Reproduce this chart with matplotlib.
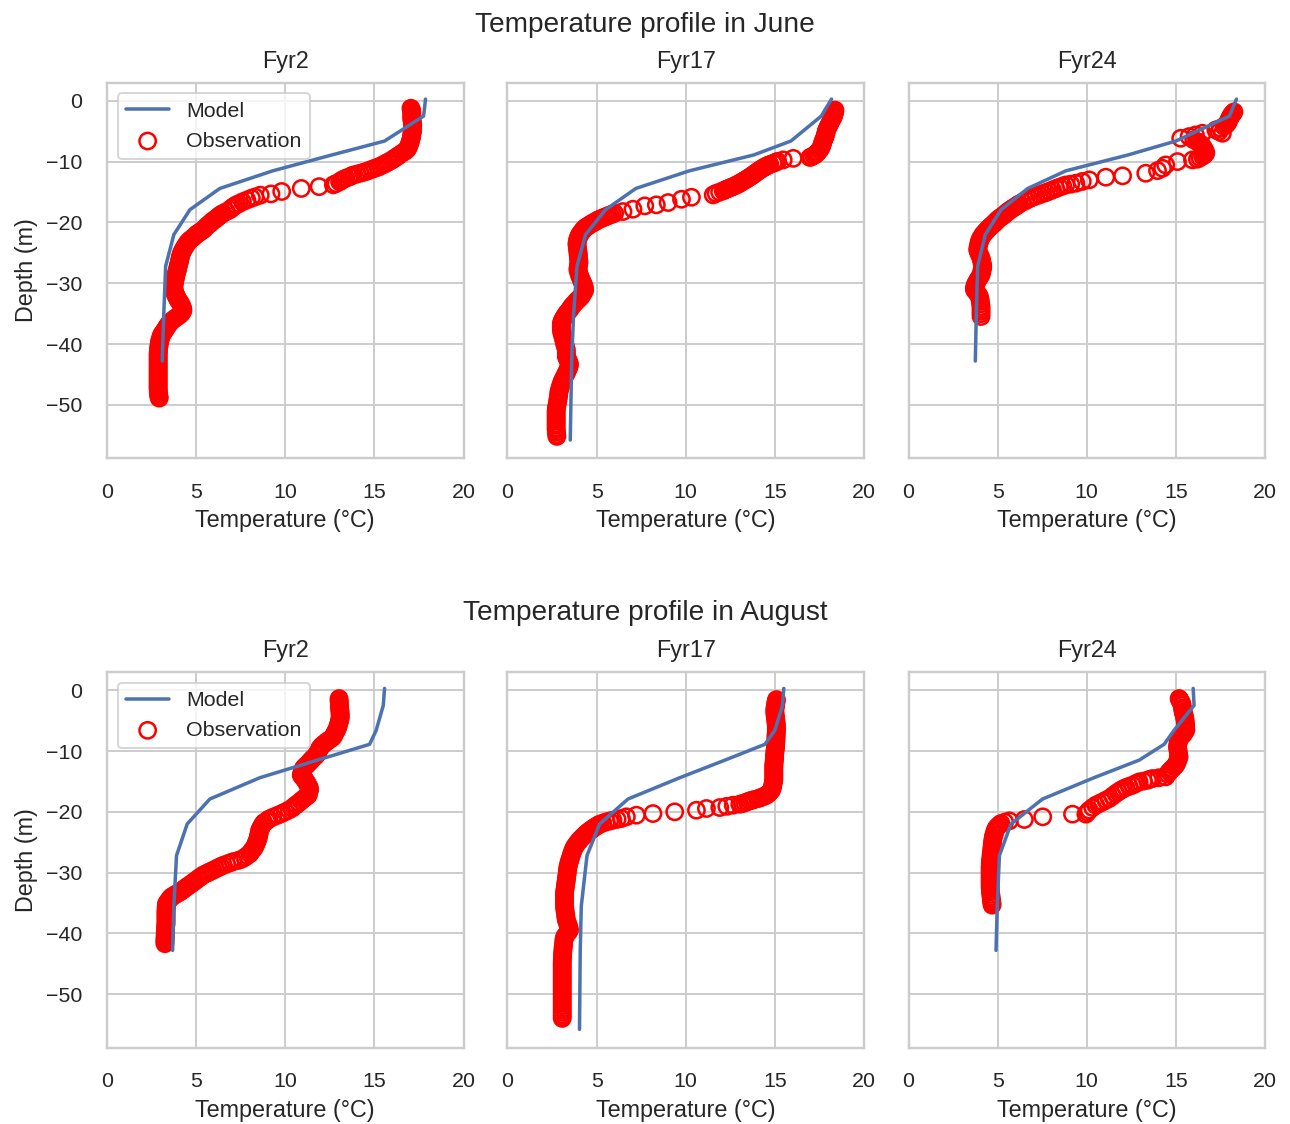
import matplotlib
matplotlib.use("Agg")
import matplotlib.pyplot as plt
import seaborn as sns

sns.set_theme(style="whitegrid")
plt.rcParams['font.family'] = ['Liberation Sans', 'DejaVu Sans']
plt.rcParams['xtick.major.pad'] = 6.5
plt.rcParams['ytick.major.pad'] = 6.8
plt.rcParams['axes.titlepad'] = 7.5

stations = ["Fyr2", "Fyr17", "Fyr24"]
months = ["June", "August"]

# Model depth levels (m)
model_depth = [0.3, -2.5, -6.6, -8.9, -11.5, -14.4, -17.9, -22.0, -27.2, -35.5, -42.8, -55.8]

# Model temperatures (deg C) per month / station
model_jun_fyr2 = [17.87, 17.76, 15.57, 12.6, 9.3, 6.33, 4.65, 3.75, 3.29, 3.18, 3.1]
model_jun_fyr17 = [18.18, 17.6, 15.9, 13.8, 10.2, 7.2, 5.5, 4.38, 3.9, 3.7, 3.6, 3.52]
model_jun_fyr24 = [18.4, 18.0, 15.0, 12.3, 8.83, 6.69, 5.19, 4.31, 3.88, 3.8, 3.75]
model_aug_fyr2 = [15.57, 15.5, 15.1, 14.73, 11.8, 8.57, 5.77, 4.5, 3.9, 3.75, 3.68]
model_aug_fyr17 = [15.5, 15.43, 15.0, 14.44, 12.2, 9.66, 6.76, 5.17, 4.46, 4.14, 4.08, 4.04]
model_aug_fyr24 = [15.97, 16.02, 14.9, 14.34, 12.94, 10.4, 7.52, 5.75, 5.1, 4.98, 4.91]

# Observations as (depth m, temperature degC) pairs read from the CTD casts
obs_jun_fyr2 = [
    (-1.2, 17.05), (-1.5, 17.08), (-1.8, 17.1), (-2.1, 17.1), (-2.4, 17.1), (-2.7, 17.1), (-3.0, 17.1), (-3.3, 17.12),
    (-3.6, 17.14), (-3.9, 17.15), (-4.2, 17.15), (-4.5, 17.15), (-4.8, 17.15), (-5.1, 17.13), (-5.4, 17.1), (-5.7, 17.1),
    (-6.0, 17.08), (-6.3, 17.05), (-6.6, 17.02), (-6.9, 17.0), (-7.2, 16.95), (-7.5, 16.92), (-7.8, 16.88), (-8.1, 16.8),
    (-8.3, 16.7), (-8.6, 16.55), (-8.9, 16.4), (-9.1, 16.3), (-9.3, 16.2), (-9.5, 16.1), (-9.7, 16.0), (-9.9, 15.88),
    (-10.1, 15.75), (-10.3, 15.62), (-10.5, 15.5), (-10.7, 15.35), (-10.9, 15.2), (-11.05, 15.05), (-11.2, 14.9),
    (-11.4, 14.72), (-11.6, 14.55), (-11.75, 14.38), (-11.9, 14.2), (-12.05, 14.0), (-12.2, 13.8), (-12.35, 13.7),
    (-12.5, 13.6), (-12.7, 13.4), (-12.85, 13.3), (-13.0, 13.2), (-13.15, 13.12), (-13.3, 13.05), (-13.6, 12.85),
    (-13.8, 12.7), (-14.1, 11.9), (-14.4, 10.9), (-14.9, 9.8), (-15.3, 9.2), (-15.5, 8.6), (-15.8, 8.3), (-16.0, 8.1),
    (-16.3, 7.85), (-16.6, 7.6), (-16.9, 7.4), (-17.1, 7.25), (-17.3, 7.15), (-17.5, 7.05), (-17.7, 6.97), (-17.9, 6.9),
    (-18.2, 6.7), (-18.5, 6.5), (-18.7, 6.4), (-18.9, 6.3), (-19.1, 6.22), (-19.3, 6.15), (-19.5, 6.05), (-19.7, 5.95),
    (-19.9, 5.87), (-20.1, 5.8), (-20.35, 5.7), (-20.6, 5.6), (-20.9, 5.5), (-21.2, 5.4), (-21.4, 5.3), (-21.6, 5.2),
    (-21.8, 5.1), (-22.0, 5.0), (-22.3, 4.9), (-22.6, 4.78), (-22.9, 4.65), (-23.2, 4.55), (-23.5, 4.48), (-23.8, 4.41),
    (-24.1, 4.35), (-24.4, 4.29), (-24.7, 4.24), (-25.0, 4.18), (-25.3, 4.15), (-25.6, 4.12), (-25.9, 4.1), (-26.2, 4.08),
    (-26.5, 4.06), (-26.8, 4.03), (-27.1, 4.0), (-27.4, 3.98), (-27.7, 3.96), (-28.0, 3.93), (-28.3, 3.9), (-28.6, 3.87),
    (-28.9, 3.85), (-29.2, 3.83), (-29.5, 3.81), (-29.8, 3.79), (-30.1, 3.77), (-30.4, 3.75), (-30.7, 3.75), (-31.0, 3.76),
    (-31.3, 3.78), (-31.6, 3.81), (-31.9, 3.85), (-32.2, 3.9), (-32.5, 3.95), (-32.8, 4.0), (-33.1, 4.08), (-33.4, 4.14),
    (-33.7, 4.19), (-34.0, 4.23), (-34.3, 4.26), (-34.6, 4.25), (-34.9, 4.18), (-35.2, 4.09), (-35.5, 3.95), (-35.8, 3.8),
    (-36.1, 3.67), (-36.4, 3.55), (-36.7, 3.47), (-37.0, 3.4), (-37.3, 3.33), (-37.6, 3.27), (-37.9, 3.2), (-38.2, 3.13),
    (-38.5, 3.06), (-38.8, 3.03), (-39.1, 3.0), (-39.4, 2.97), (-39.7, 2.94), (-40.0, 2.93), (-40.3, 2.92), (-40.6, 2.9),
    (-40.9, 2.89), (-41.2, 2.88), (-41.5, 2.87), (-41.8, 2.87), (-42.1, 2.87), (-42.4, 2.87), (-42.7, 2.87), (-43.0, 2.87),
    (-43.3, 2.87), (-43.6, 2.87), (-43.9, 2.87), (-44.2, 2.87), (-44.5, 2.87), (-44.8, 2.87), (-45.1, 2.87), (-45.4, 2.87),
    (-45.7, 2.87), (-46.0, 2.87), (-46.3, 2.87), (-46.6, 2.87), (-46.9, 2.87), (-47.2, 2.87), (-47.5, 2.87), (-47.8, 2.88),
    (-48.1, 2.88), (-48.4, 2.9), (-48.7, 2.92), (-48.9, 2.93),
]

obs_jun_fyr17 = [
    (-1.5, 18.37), (-1.8, 18.36), (-2.1, 18.33), (-2.4, 18.3), (-2.7, 18.27), (-3.0, 18.2), (-3.3, 18.15), (-3.6, 18.1),
    (-3.9, 18.05), (-4.2, 18.0), (-4.5, 17.95), (-4.8, 17.9), (-5.1, 17.88), (-5.4, 17.85), (-5.7, 17.83), (-6.0, 17.8),
    (-6.3, 17.75), (-6.6, 17.71), (-6.9, 17.68), (-7.2, 17.65), (-7.5, 17.62), (-7.8, 17.57), (-8.1, 17.5), (-8.4, 17.42),
    (-8.6, 17.35), (-8.8, 17.28), (-9.0, 17.18), (-9.2, 17.05), (-9.3, 16.97), (-9.45, 16.03), (-9.7, 15.47),
    (-9.95, 15.15), (-10.1, 15.03), (-10.25, 14.91), (-10.45, 14.72), (-10.6, 14.62), (-10.7, 14.53), (-10.85, 14.44),
    (-11.0, 14.35), (-11.2, 14.25), (-11.35, 14.16), (-11.55, 14.06), (-11.75, 13.97), (-11.95, 13.87), (-12.17, 13.78),
    (-12.35, 13.69), (-12.5, 13.6), (-12.7, 13.5), (-12.88, 13.41), (-13.05, 13.31), (-13.2, 13.22), (-13.37, 13.12),
    (-13.54, 13.03), (-13.7, 12.94), (-13.8, 12.85), (-13.95, 12.75), (-14.09, 12.66), (-14.2, 12.56), (-14.3, 12.47),
    (-14.42, 12.37), (-14.53, 12.28), (-14.65, 12.19), (-14.8, 12.1), (-15.0, 11.9), (-15.2, 11.7), (-15.46, 11.54),
    (-15.85, 10.32), (-16.18, 9.76), (-16.72, 9.01), (-17.1, 8.35), (-17.27, 7.7), (-17.82, 7.04), (-18.2, 6.48),
    (-18.48, 6.01), (-18.62, 5.88), (-18.75, 5.75), (-18.9, 5.64), (-19.02, 5.54), (-19.15, 5.42), (-19.3, 5.3),
    (-19.45, 5.19), (-19.57, 5.08), (-19.75, 4.99), (-19.9, 4.9), (-20.05, 4.8), (-20.23, 4.7), (-20.4, 4.6),
    (-20.6, 4.5), (-20.77, 4.41), (-20.94, 4.33), (-21.2, 4.25), (-21.5, 4.17), (-21.8, 4.1), (-22.04, 4.04),
    (-22.35, 3.99), (-22.7, 3.95), (-23.0, 3.92), (-23.4, 3.9), (-23.7, 3.9), (-24.1, 3.92), (-24.4, 3.93), (-24.78, 3.95),
    (-25.1, 3.96), (-25.4, 3.97), (-25.7, 3.98), (-26.0, 3.99), (-26.42, 4.01), (-26.75, 4.0), (-27.1, 3.98),
    (-27.45, 3.96), (-27.8, 3.95), (-28.2, 3.99), (-28.6, 4.03), (-29.0, 4.08), (-29.44, 4.14), (-29.8, 4.2),
    (-30.1, 4.24), (-30.4, 4.28), (-30.7, 4.31), (-31.09, 4.33), (-31.4, 4.29), (-31.7, 4.22), (-32.0, 4.17),
    (-32.3, 4.1), (-32.6, 3.99), (-32.9, 3.88), (-33.28, 3.77), (-33.6, 3.67), (-33.9, 3.58), (-34.2, 3.52),
    (-34.5, 3.45), (-34.8, 3.36), (-35.1, 3.28), (-35.47, 3.2), (-35.8, 3.14), (-36.1, 3.08), (-36.4, 3.04),
    (-36.7, 3.02), (-37.0, 3.02), (-37.3, 3.02), (-37.66, 3.02), (-38.0, 3.04), (-38.4, 3.07), (-38.76, 3.11),
    (-39.1, 3.14), (-39.5, 3.17), (-39.86, 3.2), (-40.2, 3.23), (-40.6, 3.27), (-40.95, 3.3), (-41.3, 3.3), (-41.7, 3.3),
    (-42.05, 3.3), (-42.4, 3.35), (-42.8, 3.42), (-43.1, 3.46), (-43.42, 3.48), (-43.8, 3.44), (-44.1, 3.4),
    (-44.5, 3.34), (-44.79, 3.3), (-45.1, 3.24), (-45.5, 3.17), (-45.88, 3.11), (-46.2, 3.06), (-46.6, 3.01),
    (-47.0, 2.97), (-47.3, 2.94), (-47.7, 2.9), (-48.0, 2.88), (-48.4, 2.87), (-48.8, 2.85), (-49.17, 2.83),
    (-49.5, 2.81), (-49.9, 2.79), (-50.3, 2.76), (-50.6, 2.74), (-51.0, 2.73), (-51.3, 2.73), (-51.7, 2.73),
    (-52.0, 2.73), (-52.4, 2.73), (-52.7, 2.73), (-53.1, 2.73), (-53.4, 2.73), (-53.8, 2.73), (-54.11, 2.73),
    (-54.5, 2.74), (-54.9, 2.76), (-55.2, 2.77),
]

obs_jun_fyr24 = [
    (-1.8, 18.26), (-2.0, 18.2), (-2.2, 18.15), (-2.4, 18.1), (-2.6, 18.07), (-2.85, 18.02), (-3.1, 17.98),
    (-3.4, 17.94), (-3.7, 17.89), (-3.95, 17.8), (-4.2, 17.7), (-4.5, 17.5), (-4.77, 17.24), (-5.04, 17.42),
    (-5.32, 17.61), (-5.32, 16.49), (-5.6, 16.1), (-5.87, 15.74), (-6.14, 15.27), (-6.4, 16.0), (-6.69, 16.21),
    (-6.9, 16.3), (-7.1, 16.4), (-7.3, 16.45), (-7.51, 16.49), (-7.75, 16.55), (-8.0, 16.6), (-8.3, 16.65),
    (-8.6, 16.68), (-8.85, 16.6), (-9.1, 16.5), (-9.35, 16.35), (-9.59, 16.21), (-9.7, 15.93), (-9.98, 15.09),
    (-10.53, 14.43), (-11.08, 14.25), (-11.46, 13.97), (-11.9, 13.31), (-12.33, 12.01), (-12.55, 11.07),
    (-12.99, 10.14), (-13.25, 9.75), (-13.54, 9.39), (-13.7, 9.1), (-13.82, 8.83), (-14.0, 8.65), (-14.2, 8.46),
    (-14.42, 8.27), (-14.64, 8.08), (-14.86, 7.9), (-15.08, 7.71), (-15.27, 7.52), (-15.46, 7.34), (-15.65, 7.15),
    (-15.84, 6.97), (-16.1, 6.78), (-16.39, 6.59), (-16.65, 6.4), (-16.94, 6.22), (-17.1, 6.13), (-17.3, 6.05),
    (-17.47, 5.95), (-17.65, 5.85), (-17.85, 5.75), (-18.05, 5.65), (-18.25, 5.56), (-18.48, 5.47), (-18.7, 5.38),
    (-18.9, 5.3), (-19.1, 5.2), (-19.3, 5.1), (-19.5, 5.02), (-19.7, 4.95), (-19.9, 4.88), (-20.12, 4.82),
    (-20.35, 4.72), (-20.6, 4.62), (-20.85, 4.53), (-21.1, 4.45), (-21.35, 4.37), (-21.6, 4.3), (-21.8, 4.23),
    (-22.04, 4.17), (-22.3, 4.11), (-22.6, 4.05), (-22.85, 4.01), (-23.13, 3.98), (-23.45, 3.95), (-23.8, 3.92),
    (-24.15, 3.9), (-24.5, 3.88), (-24.85, 3.92), (-25.2, 3.97), (-25.5, 4.02), (-25.87, 4.07), (-26.2, 4.1),
    (-26.6, 4.12), (-26.9, 4.15), (-27.25, 4.17), (-27.6, 4.15), (-27.9, 4.12), (-28.25, 4.1), (-28.62, 4.07),
    (-28.95, 4.0), (-29.3, 3.92), (-29.65, 3.85), (-29.99, 3.79), (-30.25, 3.75), (-30.5, 3.72), (-30.8, 3.7),
    (-31.09, 3.7), (-31.35, 3.78), (-31.6, 3.85), (-31.9, 3.92), (-32.18, 3.98), (-32.6, 4.01), (-33.0, 4.03),
    (-33.4, 4.05), (-33.83, 4.07), (-34.2, 4.07), (-34.6, 4.07), (-35.0, 4.07), (-35.47, 4.07),
]

obs_aug_fyr2 = [
    (-1.37, 13.02), (-1.7, 13.02), (-2.0, 13.03), (-2.3, 13.04), (-2.6, 13.04), (-2.9, 13.05), (-3.2, 13.06),
    (-3.5, 13.07), (-3.8, 13.08), (-4.1, 13.08), (-4.4, 13.09), (-4.7, 13.07), (-5.0, 13.05), (-5.3, 13.02),
    (-5.6, 12.99), (-5.9, 12.97), (-6.2, 12.93), (-6.5, 12.89), (-6.8, 12.83), (-7.1, 12.78), (-7.4, 12.73),
    (-7.7, 12.68), (-8.0, 12.55), (-8.3, 12.4), (-8.6, 12.27), (-8.9, 12.14), (-9.2, 12.03), (-9.5, 11.95),
    (-9.8, 11.89), (-10.1, 11.84), (-10.4, 11.79), (-10.7, 11.74), (-11.0, 11.63), (-11.3, 11.52), (-11.6, 11.43),
    (-11.9, 11.34), (-12.2, 11.24), (-12.5, 11.13), (-12.8, 11.03), (-13.1, 10.98), (-13.4, 10.95), (-13.7, 10.92),
    (-14.0, 10.9), (-14.3, 10.98), (-14.6, 11.07), (-14.9, 11.14), (-15.2, 11.2), (-15.5, 11.26), (-15.8, 11.31),
    (-16.1, 11.36), (-16.4, 11.36), (-16.7, 11.33), (-17.0, 11.31), (-17.3, 11.28), (-17.6, 11.15), (-17.9, 11.01),
    (-18.2, 10.89), (-18.5, 10.77), (-18.8, 10.63), (-19.1, 10.5), (-19.4, 10.39), (-19.7, 10.21), (-20.0, 10.0),
    (-20.3, 9.79), (-20.6, 9.55), (-20.9, 9.3), (-21.2, 9.08), (-21.5, 8.95), (-21.8, 8.8), (-22.1, 8.73),
    (-22.4, 8.68), (-22.7, 8.62), (-23.0, 8.57), (-23.3, 8.55), (-23.6, 8.53), (-23.9, 8.51), (-24.2, 8.49),
    (-24.5, 8.46), (-24.8, 8.42), (-25.1, 8.38), (-25.4, 8.34), (-25.7, 8.3), (-26.0, 8.24), (-26.3, 8.15),
    (-26.6, 8.08), (-26.9, 8.01), (-27.2, 7.87), (-27.5, 7.73), (-27.8, 7.56), (-28.0, 7.36), (-28.2, 7.08),
    (-28.4, 6.9), (-28.6, 6.71), (-28.8, 6.52), (-29.0, 6.38), (-29.2, 6.24), (-29.4, 6.1), (-29.6, 5.96),
    (-29.8, 5.82), (-30.0, 5.68), (-30.2, 5.54), (-30.4, 5.4), (-30.65, 5.28), (-30.9, 5.16), (-31.15, 5.05),
    (-31.4, 4.93), (-31.65, 4.82), (-31.9, 4.7), (-32.15, 4.58), (-32.4, 4.46), (-32.6, 4.37), (-32.8, 4.28),
    (-33.0, 4.19), (-33.2, 4.09), (-33.4, 3.97), (-33.6, 3.85), (-33.8, 3.73), (-34.0, 3.62), (-34.25, 3.55),
    (-34.5, 3.48), (-34.8, 3.41), (-35.1, 3.34), (-35.4, 3.33), (-35.7, 3.32), (-36.0, 3.32), (-36.3, 3.31),
    (-36.6, 3.31), (-36.9, 3.31), (-37.2, 3.31), (-37.5, 3.31), (-37.8, 3.31), (-38.1, 3.31), (-38.4, 3.31),
    (-38.7, 3.3), (-39.0, 3.29), (-39.3, 3.29), (-39.6, 3.28), (-39.9, 3.27), (-40.2, 3.27), (-40.5, 3.26),
    (-40.8, 3.26), (-41.1, 3.25), (-41.4, 3.25), (-41.7, 3.25),
]

obs_aug_fyr17 = [
    (-1.54, 15.09), (-1.85, 15.07), (-2.15, 15.05), (-2.45, 15.04), (-2.75, 15.02), (-3.05, 15.0), (-3.35, 15.0),
    (-3.65, 15.0), (-3.95, 15.01), (-4.25, 15.02), (-4.55, 15.04), (-4.85, 15.05), (-5.15, 15.06), (-5.45, 15.07),
    (-5.75, 15.08), (-6.05, 15.09), (-6.35, 15.08), (-6.65, 15.08), (-6.95, 15.08), (-7.25, 15.07), (-7.55, 15.07),
    (-7.85, 15.06), (-8.15, 15.06), (-8.45, 15.05), (-8.75, 15.05), (-9.05, 15.04), (-9.35, 15.03), (-9.65, 15.02),
    (-9.95, 15.01), (-10.25, 15.0), (-10.55, 14.99), (-10.85, 14.98), (-11.15, 14.98), (-11.45, 14.97),
    (-11.75, 14.96), (-12.05, 14.95), (-12.35, 14.94), (-12.65, 14.94), (-12.95, 14.94), (-13.25, 14.94),
    (-13.55, 14.94), (-13.85, 14.94), (-14.15, 14.94), (-14.45, 14.94), (-14.75, 14.94), (-15.05, 14.92),
    (-15.35, 14.9), (-15.65, 14.88), (-15.95, 14.86), (-16.2, 14.84), (-16.45, 14.81), (-16.7, 14.74),
    (-16.9, 14.67), (-17.1, 14.6), (-17.27, 14.53), (-17.42, 14.42), (-17.55, 14.3), (-17.7, 14.18),
    (-17.82, 14.06), (-18.0, 13.83), (-18.1, 13.72), (-18.2, 13.6), (-18.35, 13.45), (-18.53, 13.31),
    (-18.65, 13.17), (-18.75, 13.03), (-18.91, 12.66), (-19.1, 12.3), (-19.3, 11.91), (-19.46, 11.16),
    (-19.74, 10.6), (-20.01, 9.38), (-20.29, 8.16), (-20.56, 7.23), (-20.83, 6.67), (-21.11, 6.39),
    (-21.25, 6.15), (-21.38, 5.92), (-21.52, 5.73), (-21.66, 5.54), (-21.85, 5.35), (-22.04, 5.17), (-22.2, 5.08),
    (-22.4, 4.98), (-22.55, 4.88), (-22.75, 4.79), (-22.95, 4.7), (-23.15, 4.6), (-23.35, 4.51), (-23.57, 4.42),
    (-23.85, 4.33), (-24.1, 4.23), (-24.4, 4.13), (-24.67, 4.04), (-24.95, 3.97), (-25.2, 3.9), (-25.5, 3.83),
    (-25.77, 3.76), (-26.1, 3.71), (-26.4, 3.67), (-26.75, 3.62), (-27.14, 3.58), (-27.45, 3.55), (-27.8, 3.51),
    (-28.1, 3.48), (-28.4, 3.45), (-28.75, 3.42), (-29.06, 3.39), (-29.4, 3.38), (-29.75, 3.36), (-30.1, 3.35),
    (-30.5, 3.33), (-30.9, 3.31), (-31.25, 3.3), (-31.6, 3.28), (-31.95, 3.26), (-32.3, 3.25), (-32.7, 3.23),
    (-33.05, 3.21), (-33.44, 3.2), (-33.8, 3.2), (-34.15, 3.2), (-34.5, 3.2), (-34.9, 3.2), (-35.25, 3.2),
    (-35.64, 3.2), (-36.0, 3.22), (-36.35, 3.23), (-36.7, 3.25), (-37.1, 3.27), (-37.45, 3.28), (-37.83, 3.3),
    (-38.2, 3.35), (-38.6, 3.4), (-39.0, 3.45), (-39.47, 3.48), (-39.75, 3.42), (-40.0, 3.35), (-40.3, 3.27),
    (-40.57, 3.2), (-40.95, 3.18), (-41.3, 3.16), (-41.7, 3.15), (-42.05, 3.13), (-42.4, 3.12), (-42.76, 3.11),
    (-43.15, 3.1), (-43.5, 3.09), (-43.9, 3.09), (-44.25, 3.08), (-44.6, 3.07), (-44.96, 3.07), (-45.3, 3.07),
    (-45.65, 3.07), (-46.0, 3.07), (-46.4, 3.07), (-46.75, 3.07), (-47.15, 3.07), (-47.5, 3.07), (-47.85, 3.07),
    (-48.2, 3.07), (-48.6, 3.07), (-48.95, 3.07), (-49.34, 3.07), (-49.7, 3.07), (-50.05, 3.07), (-50.4, 3.07),
    (-50.8, 3.07), (-51.15, 3.07), (-51.54, 3.07), (-51.9, 3.07), (-52.3, 3.07), (-52.65, 3.07), (-53.0, 3.07),
    (-53.4, 3.07), (-53.7, 3.07), (-54.0, 3.07),
]

obs_aug_fyr24 = [
    (-1.37, 15.18), (-1.6, 15.22), (-1.8, 15.26), (-2.0, 15.3), (-2.19, 15.33), (-2.5, 15.35), (-2.9, 15.37),
    (-3.2, 15.39), (-3.56, 15.41), (-3.9, 15.44), (-4.2, 15.47), (-4.55, 15.5), (-4.93, 15.52), (-5.3, 15.53),
    (-5.7, 15.54), (-6.1, 15.55), (-6.58, 15.56), (-6.95, 15.48), (-7.3, 15.4), (-7.6, 15.3), (-7.95, 15.18),
    (-8.3, 15.15), (-8.6, 15.13), (-8.95, 15.11), (-9.32, 15.09), (-9.7, 15.11), (-10.1, 15.13), (-10.5, 15.15),
    (-10.96, 15.18), (-11.3, 15.14), (-11.6, 15.1), (-12.0, 15.05), (-12.34, 14.99), (-12.6, 14.9), (-12.9, 14.8),
    (-13.15, 14.71), (-13.43, 14.62), (-13.8, 14.53), (-14.25, 14.43), (-14.4, 14.05), (-14.53, 13.69),
    (-14.65, 13.55), (-14.8, 13.41), (-14.95, 13.18), (-15.08, 12.94), (-15.35, 12.75), (-15.63, 12.57),
    (-15.8, 12.38), (-16.0, 12.2), (-16.22, 12.05), (-16.45, 11.91), (-16.72, 11.77), (-17.0, 11.63),
    (-17.4, 11.45), (-17.82, 11.26), (-18.1, 11.07), (-18.37, 10.89), (-18.65, 10.7), (-18.91, 10.51),
    (-19.3, 10.33), (-19.74, 10.14), (-20.05, 10.05), (-20.39, 9.95), (-20.39, 9.2), (-20.83, 7.53), (-21.27, 6.5),
    (-21.49, 5.66), (-21.7, 5.4), (-21.93, 5.19), (-22.1, 5.12), (-22.3, 5.05), (-22.5, 4.98), (-22.75, 4.91),
    (-23.05, 4.87), (-23.4, 4.83), (-23.75, 4.8), (-24.12, 4.76), (-24.5, 4.74), (-24.9, 4.72), (-25.3, 4.7),
    (-25.77, 4.69), (-26.2, 4.67), (-26.6, 4.66), (-27.0, 4.64), (-27.41, 4.63), (-27.8, 4.61), (-28.2, 4.6),
    (-28.6, 4.59), (-29.06, 4.58), (-29.5, 4.58), (-29.9, 4.58), (-30.3, 4.58), (-30.7, 4.58), (-31.1, 4.58),
    (-31.5, 4.58), (-31.9, 4.58), (-32.35, 4.58), (-32.8, 4.59), (-33.2, 4.6), (-33.6, 4.62), (-33.99, 4.63),
    (-34.35, 4.65), (-34.7, 4.66), (-35.0, 4.68), (-35.36, 4.69),
]

model_data = {
    ("June", "Fyr2"): model_jun_fyr2, ("June", "Fyr17"): model_jun_fyr17, ("June", "Fyr24"): model_jun_fyr24,
    ("August", "Fyr2"): model_aug_fyr2, ("August", "Fyr17"): model_aug_fyr17, ("August", "Fyr24"): model_aug_fyr24,
}
obs_data = {
    ("June", "Fyr2"): obs_jun_fyr2, ("June", "Fyr17"): obs_jun_fyr17, ("June", "Fyr24"): obs_jun_fyr24,
    ("August", "Fyr2"): obs_aug_fyr2, ("August", "Fyr17"): obs_aug_fyr17, ("August", "Fyr24"): obs_aug_fyr24,
}

W, H = 1290, 1124
DPI = 140
fig = plt.figure(figsize=(W / DPI, H / DPI), dpi=DPI)

col_left = [107, 507.5, 908.5]
ax_w = 356.5
row_top = [82.7, 672.0]
ax_h = 375.6
suptitle_base = [31.7, 620.0]

for r, month in enumerate(months):
    fig.text(0.5, 1 - suptitle_base[r] / H, f"Temperature profile in {month}",
             ha="center", va="baseline", fontsize=14.4, color="#262626")
    first = None
    for c, st in enumerate(stations):
        rect = [col_left[c] / W, 1 - (row_top[r] + ax_h) / H, ax_w / W, ax_h / H]
        ax = fig.add_axes(rect, sharey=first)
        if first is None:
            first = ax
        temps = model_data[(month, st)]
        depths = model_depth[:len(temps)]
        pairs = obs_data[(month, st)]
        od = [p[0] for p in pairs]
        ot = [p[1] for p in pairs]
        ax.plot(temps, depths, color="#4C72B0", lw=1.8, label="Model", zorder=2)
        ax.scatter(ot, od, s=70, facecolors="none", edgecolors="red", linewidths=1.3,
                   label="Observation", zorder=1)
        ax.set_xlim(0, 20)
        ax.set_xticks([0, 5, 10, 15, 20])
        ax.set_ylim(-58.8, 3.0)
        ax.set_yticks([0, -10, -20, -30, -40, -50])
        ax.set_title(st)
        ax.set_xlabel("Temperature (°C)")
        if c == 0:
            ax.set_ylabel("Depth (m)")
            ax.legend(loc="upper left")
        else:
            ax.tick_params(labelleft=False)

fig.savefig("out.png", dpi=DPI)
